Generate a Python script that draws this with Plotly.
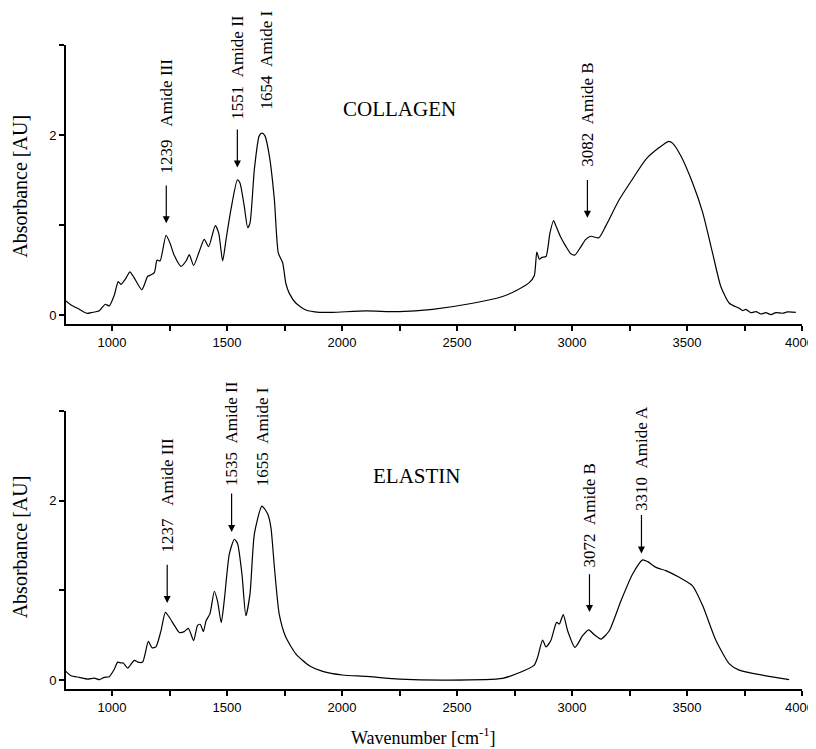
import plotly.graph_objects as go

# ---------------- data ----------------
collagen_wn = [800, 822, 858, 890, 909, 945, 971, 988, 1010, 1027, 1039, 1061, 1078, 1097,
               1130, 1155, 1165, 1184, 1196, 1209, 1235, 1252, 1271, 1300, 1322, 1336, 1355,
               1380, 1401, 1420, 1449, 1464, 1481, 1496, 1517, 1545, 1556, 1575, 1590, 1600,
               1619, 1640, 1652, 1665, 1684, 1706, 1723, 1742, 1756, 1771, 1800, 1843, 1901,
               1959, 2104, 2249, 2394, 2568, 2698, 2756, 2814, 2836, 2847, 2858, 2869, 2887,
               2904, 2920, 2930, 2949, 2974, 2995, 3013, 3039, 3060, 3082, 3116, 3147, 3205,
               3263, 3321, 3379, 3420, 3437, 3473, 3524, 3568, 3611, 3647, 3684, 3727, 3742,
               3756, 3778, 3800, 3821, 3843, 3865, 3886, 3915, 3937, 3973]
collagen_abs = [0.156, 0.11, 0.063, 0.019, 0.026, 0.048, 0.119, 0.10, 0.22, 0.37, 0.34, 0.41,
                0.48, 0.41, 0.28, 0.43, 0.44, 0.47, 0.61, 0.60, 0.886, 0.80, 0.66, 0.54, 0.60,
                0.67, 0.55, 0.71, 0.84, 0.76, 0.994, 0.91, 0.60, 0.84, 1.17, 1.50, 1.47, 1.21,
                0.97, 1.02, 1.62, 1.99, 2.02, 1.99, 1.77, 1.28, 0.69, 0.58, 0.35, 0.24, 0.13,
                0.056, 0.03, 0.03, 0.045, 0.037, 0.063, 0.13, 0.205, 0.27, 0.36, 0.436, 0.70,
                0.62, 0.64, 0.65, 0.91, 1.05, 0.99, 0.875, 0.76, 0.68, 0.667, 0.76, 0.84, 0.875,
                0.857, 0.99, 1.28, 1.51, 1.73, 1.86, 1.93, 1.91, 1.77, 1.47, 1.14, 0.69, 0.317,
                0.13, 0.074, 0.048, 0.063, 0.026, 0.037, 0.011, 0.026, 0.004, 0.026, 0.019,
                0.034, 0.030]

elastin_wn = [800, 822, 858, 894, 923, 945, 967, 988, 1010, 1025, 1039, 1049, 1068, 1097,
              1112, 1133, 1158, 1174, 1191, 1213, 1232, 1249, 1271, 1293, 1314, 1332, 1355,
              1372, 1384, 1397, 1409, 1426, 1445, 1459, 1475, 1488, 1510, 1532, 1546, 1565,
              1582, 1600, 1619, 1652, 1677, 1691, 1706, 1727, 1756, 1800, 1858, 1916, 2003,
              2104, 2249, 2466, 2698, 2756, 2836, 2850, 2872, 2887, 2908, 2933, 2945, 2962,
              2981, 3013, 3046, 3072, 3097, 3126, 3162, 3213, 3263, 3307, 3329, 3365, 3408,
              3466, 3524, 3568, 3626, 3684, 3727, 3785, 3857, 3944]
elastin_abs = [0.097, 0.048, 0.03, 0.011, 0.022, 0.004, 0.03, 0.037, 0.12, 0.20, 0.19, 0.19,
               0.134, 0.22, 0.20, 0.20, 0.43, 0.36, 0.37, 0.55, 0.755, 0.70, 0.61, 0.53, 0.54,
               0.576, 0.44, 0.61, 0.62, 0.54, 0.66, 0.74, 0.99, 0.877, 0.64, 0.885, 1.405, 1.57,
               1.52, 1.18, 0.717, 0.96, 1.63, 1.94, 1.85, 1.70, 1.26, 0.736, 0.476, 0.29, 0.16,
               0.097, 0.056, 0.041, 0.011, 0.0, 0.019, 0.067, 0.167, 0.25, 0.446, 0.37, 0.44,
               0.643, 0.625, 0.73, 0.55, 0.364, 0.494, 0.56, 0.506, 0.457, 0.55, 0.885, 1.18,
               1.34, 1.32, 1.256, 1.22, 1.145, 1.05, 0.83, 0.44, 0.18, 0.11, 0.074, 0.041, 0.004]

# band labels
collagen_bands = [1239, 1551, 1654, 3082]
collagen_names = ["Amide III", "Amide II", "Amide I", "Amide B"]
elastin_bands = [1237, 1535, 1655, 3072, 3310]
elastin_names = ["Amide III", "Amide II", "Amide I", "Amide B", "Amide A"]

x_tick_vals = [1000, 1500, 2000, 2500, 3000, 3500]
x_end_tick = 4000                     # last tick; its label is drawn as an annotation
x_minor_vals = [1250, 1750, 2250, 2750, 3250, 3750, x_end_tick]
y_tick_vals = [0, 2]
y_minor_vals = [1, 3]

# ---------------- figure ----------------
SERIF = "Liberation Serif, Times New Roman, serif"
SANS = "Liberation Sans, Arial, sans-serif"

fig = go.Figure()
fig.add_trace(go.Scatter(x=collagen_wn, y=collagen_abs, mode="lines",
                         line=dict(color="black", width=1.2, shape="spline", smoothing=0.6),
                         xaxis="x", yaxis="y", showlegend=False, hoverinfo="skip"))
fig.add_trace(go.Scatter(x=elastin_wn, y=elastin_abs, mode="lines",
                         line=dict(color="black", width=1.2, shape="spline", smoothing=0.6),
                         xaxis="x2", yaxis="y2", showlegend=False, hoverinfo="skip"))

xcommon = dict(range=[800, 4000], showline=True, linewidth=2, linecolor="black",
               ticks="outside", ticklen=5, tickwidth=1.5, tickcolor="black",
               tickvals=x_tick_vals, showgrid=False, zeroline=False,
               tickfont=dict(family=SANS, size=13, color="black"),
               minor=dict(ticks="outside", ticklen=5, tickwidth=1.5, tickcolor="black",
                          tickvals=x_minor_vals, showgrid=False))
ycommon = dict(range=[-0.1, 3.0], showline=True, linewidth=2, linecolor="black",
               ticks="outside", ticklen=5, tickwidth=1.5, tickcolor="black",
               tickvals=y_tick_vals, showgrid=False, zeroline=False,
               tickfont=dict(family=SANS, size=13, color="black"),
               minor=dict(ticks="outside", ticklen=5, tickwidth=1.5, tickcolor="black",
                          tickvals=y_minor_vals, showgrid=False))

# page has an 8px body margin; figure is shrunk so the plot lands where the reference has it
fig.update_layout(
    width=808, height=741,
    margin=dict(l=58, r=14, t=37, b=60),
    paper_bgcolor="white", plot_bgcolor="white",
    xaxis=dict(domain=[0, 1], anchor="y", **xcommon),
    yaxis=dict(domain=[0.5668, 1.0], anchor="x", **ycommon),
    xaxis2=dict(domain=[0, 1], anchor="y2", **xcommon),
    yaxis2=dict(domain=[0.0, 0.4317], anchor="x2", **ycommon),
)

ann = []
shapes = []
NB = "\u00a0"

# label of the last x tick, kept inside the figure edge
for yl in [0.5388, -0.028]:
    ann.append(dict(text=str(x_end_tick), xref="paper", yref="paper", x=0.997, y=yl,
                    xanchor="center", yanchor="middle", showarrow=False, borderpad=0,
                    font=dict(family=SANS, size=13, color="black")))

# Axis titles
for yc in [0.78, 0.22]:
    ann.append(dict(text="Absorbance [AU]", xref="paper", yref="paper", x=-0.0625, y=yc,
                    textangle=-90, showarrow=False, xanchor="center", yanchor="middle",
                    font=dict(family=SERIF, size=20, color="black")))
ann.append(dict(text="Wavenumber [cm<sup>-1</sup>]", xref="paper", yref="paper",
                x=0.486, y=-0.074, showarrow=False, xanchor="center", yanchor="middle",
                font=dict(family=SERIF, size=18, color="black")))

# Panel names
ann.append(dict(text="COLLAGEN", x=2249, y=2.29, xref="x", yref="y", showarrow=False,
                font=dict(family=SERIF, size=21, color="black")))
ann.append(dict(text="ELASTIN", x=2324, y=2.28, xref="x2", yref="y2", showarrow=False,
                font=dict(family=SERIF, size=21, color="black")))

head_x = {"x": [], "y": []}
head_x2 = {"x": [], "y": []}

# (label centre x, label centre y, arrow tail y, arrow tip y, spaces)
top_layout = [(1236, 2.21, 1.44, 1.02, 3), (1545, 2.75, 2.06, 1.64, 2),
              (1670, 2.83, None, None, 2), (3067, 2.23, 1.50, 1.08, 2)]
for band, name, (lx, ly, ty, hy, nsp) in zip(collagen_bands, collagen_names, top_layout):
    ann.append(dict(text=f"{band}" + NB * nsp + name, x=lx, y=ly, xref="x", yref="y",
                    textangle=-90, showarrow=False,
                    font=dict(family=SERIF, size=17, color="black")))
    if ty is not None:
        shapes.append(dict(type="line", xref="x", yref="y", x0=lx, x1=lx, y0=ty, y1=hy + 0.02,
                           line=dict(color="black", width=1.2)))
        head_x["x"].append(lx)
        head_x["y"].append(hy)

bot_layout = [(1240, 2.06, 1.285, 0.86, 3), (1520, 2.75, 2.08, 1.65, 2),
              (1658, 2.71, None, None, 2), (3076, 1.84, 1.18, 0.76, 2),
              (3302, 2.47, 1.84, 1.41, 2)]
for band, name, (lx, ly, ty, hy, nsp) in zip(elastin_bands, elastin_names, bot_layout):
    ann.append(dict(text=f"{band}" + NB * nsp + name, x=lx, y=ly, xref="x2", yref="y2",
                    textangle=-90, showarrow=False,
                    font=dict(family=SERIF, size=17, color="black")))
    if ty is not None:
        shapes.append(dict(type="line", xref="x2", yref="y2", x0=lx, x1=lx, y0=ty, y1=hy + 0.02,
                           line=dict(color="black", width=1.2)))
        head_x2["x"].append(lx)
        head_x2["y"].append(hy)

fig.add_trace(go.Scatter(x=head_x["x"], y=head_x["y"], mode="markers", xaxis="x", yaxis="y",
                         marker=dict(symbol="arrow-down", size=7, color="black"),
                         showlegend=False, hoverinfo="skip"))
fig.add_trace(go.Scatter(x=head_x2["x"], y=head_x2["y"], mode="markers", xaxis="x2", yaxis="y2",
                         marker=dict(symbol="arrow-down", size=7, color="black"),
                         showlegend=False, hoverinfo="skip"))

fig.update_layout(annotations=ann, shapes=shapes)
fig.write_html("out.html")
